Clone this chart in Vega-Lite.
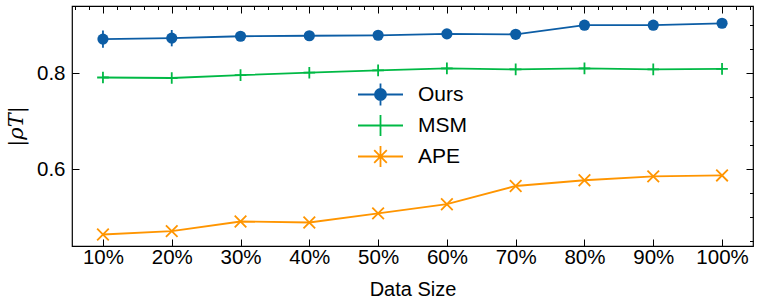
{
  "$schema": "https://vega.github.io/schema/vega-lite/v6.json",
  "width": 681,
  "height": 240,
  "autosize": {"type": "none"},
  "padding": {"left": 72, "top": 6, "right": 8, "bottom": 60},
  "config": {
    "view": {"stroke": "#000", "strokeWidth": 1.2},
    "font": "Liberation Sans",
    "axis": {
      "domain": false,
      "grid": false,
      "labelColor": "#000",
      "tickColor": "#000",
      "tickWidth": 1,
      "labelFont": "Liberation Sans",
      "labelFontSize": 20.5,
      "titleFont": "Liberation Sans",
      "titleFontWeight": "normal",
      "titleColor": "#000"
    }
  },
  "data": {
    "values": [
      {"size": 10, "series": "Ours", "y": 0.871, "lo": 0.853, "hi": 0.889},
      {"size": 20, "series": "Ours", "y": 0.873, "lo": 0.856, "hi": 0.890},
      {"size": 30, "series": "Ours", "y": 0.877, "lo": 0.869, "hi": 0.885},
      {"size": 40, "series": "Ours", "y": 0.878, "lo": 0.871, "hi": 0.885},
      {"size": 50, "series": "Ours", "y": 0.879, "lo": 0.872, "hi": 0.886},
      {"size": 60, "series": "Ours", "y": 0.882, "lo": 0.875, "hi": 0.889},
      {"size": 70, "series": "Ours", "y": 0.881, "lo": 0.874, "hi": 0.888},
      {"size": 80, "series": "Ours", "y": 0.900, "lo": 0.893, "hi": 0.907},
      {"size": 90, "series": "Ours", "y": 0.900, "lo": 0.893, "hi": 0.907},
      {"size": 100, "series": "Ours", "y": 0.904, "lo": 0.897, "hi": 0.911},
      {"size": 10, "series": "MSM", "y": 0.791},
      {"size": 20, "series": "MSM", "y": 0.790},
      {"size": 30, "series": "MSM", "y": 0.796},
      {"size": 40, "series": "MSM", "y": 0.801},
      {"size": 50, "series": "MSM", "y": 0.806},
      {"size": 60, "series": "MSM", "y": 0.810},
      {"size": 70, "series": "MSM", "y": 0.808},
      {"size": 80, "series": "MSM", "y": 0.810},
      {"size": 90, "series": "MSM", "y": 0.808},
      {"size": 100, "series": "MSM", "y": 0.809},
      {"size": 10, "series": "APE", "y": 0.464},
      {"size": 20, "series": "APE", "y": 0.471},
      {"size": 30, "series": "APE", "y": 0.491},
      {"size": 40, "series": "APE", "y": 0.489},
      {"size": 50, "series": "APE", "y": 0.508},
      {"size": 60, "series": "APE", "y": 0.527},
      {"size": 70, "series": "APE", "y": 0.565},
      {"size": 80, "series": "APE", "y": 0.577},
      {"size": 90, "series": "APE", "y": 0.585},
      {"size": 100, "series": "APE", "y": 0.587}
    ]
  },
  "layer": [
    {
      "mark": {"type": "line", "strokeWidth": 1.8},
      "encoding": {
        "x": {
          "field": "size", "type": "quantitative",
          "scale": {"domain": [5.5, 104.5], "nice": false},
          "axis": {
            "values": [10, 20, 30, 40, 50, 60, 70, 80, 90, 100],
            "labelExpr": "datum.value + '%'",
            "tickSize": -7,
            "labelPadding": 8,
            "title": "Data Size",
            "titleFontSize": 20,
            "titlePadding": 12
          }
        },
        "y": {
          "field": "y", "type": "quantitative",
          "scale": {"domain": [0.44, 0.94], "nice": false, "zero": false},
          "axis": {
            "values": [0.6, 0.8],
            "format": ".1f",
            "tickSize": -7,
            "labelPadding": 14,
            "title": "|ρT|",
            "titleFont": "DejaVu Serif",
            "titleFontStyle": "italic",
            "titleFontSize": 21,
            "titlePadding": 10
          }
        },
        "color": {
          "field": "series", "type": "nominal",
          "scale": {"domain": ["Ours", "MSM", "APE"], "range": ["#0C5DA5", "#00B945", "#FF9500"]},
          "legend": {
            "orient": "none",
            "legendX": 292.5,
            "legendY": 72.5,
            "title": null,
            "padding": 0,
            "labelFontSize": 21,
            "labelColor": "#000",
            "labelFont": "Liberation Sans",
            "labelOffset": 21.5,
            "symbolSize": 900,
            "symbolStrokeWidth": 1.8,
            "rowPadding": -1.5,
            "encode": {
              "symbols": {
                "update": {
                  "shape": {"signal": "datum.value === 'Ours' ? 'M-1.5,0H1.5M0,-0.73V0.73M-0.37,0A0.37,0.37 0 1,0 0.37,0A0.37,0.37 0 1,0 -0.37,0Z' : datum.value === 'MSM' ? 'M-1.5,0H1.5M0,-0.7V0.7' : 'M-1.5,0H1.5M0,-0.7V0.7M-0.42,-0.42L0.42,0.42M-0.42,0.42L0.42,-0.42'"},
                  "fill": {"signal": "datum.value === 'Ours' ? '#0C5DA5' : 'transparent'"}
                }
              }
            }
          }
        }
      }
    },
    {
      "transform": [{"filter": "datum.series === 'Ours'"}],
      "mark": {"type": "rule", "color": "#0C5DA5", "strokeWidth": 1.8},
      "encoding": {
        "x": {
          "field": "size", "type": "quantitative",
          "axis": {
            "values": [6, 8, 12, 14, 16, 18, 22, 24, 26, 28, 32, 34, 36, 38, 42, 44, 46, 48, 52, 54, 56, 58, 62, 64, 66, 68, 72, 74, 76, 78, 82, 84, 86, 88, 92, 94, 96, 98, 102, 104],
            "labels": false, "tickSize": -3.5, "title": null
          }
        },
        "y": {
          "field": "lo", "type": "quantitative",
          "axis": {
            "values": [0.45, 0.5, 0.55, 0.65, 0.7, 0.75, 0.85, 0.9],
            "labels": false, "tickSize": -3.5, "title": null
          }
        },
        "y2": {"field": "hi"}
      }
    },
    {
      "transform": [{"filter": "datum.series === 'Ours'"}],
      "mark": {"type": "point", "shape": "circle", "filled": true, "opacity": 1, "color": "#0C5DA5", "size": 125},
      "encoding": {
        "x": {
          "field": "size", "type": "quantitative",
          "axis": {
            "orient": "top",
            "values": [10, 20, 30, 40, 50, 60, 70, 80, 90, 100],
            "labels": false, "tickSize": -7, "title": null
          }
        },
        "y": {
          "field": "y", "type": "quantitative",
          "axis": {
            "orient": "right",
            "values": [0.6, 0.8],
            "labels": false, "tickSize": -7, "title": null
          }
        }
      }
    },
    {
      "transform": [{"filter": "datum.series !== 'Ours'"}],
      "mark": {"type": "point", "filled": false, "opacity": 1, "size": 135, "strokeWidth": 1.8},
      "encoding": {
        "x": {
          "field": "size", "type": "quantitative",
          "axis": {
            "orient": "top",
            "values": [6, 8, 12, 14, 16, 18, 22, 24, 26, 28, 32, 34, 36, 38, 42, 44, 46, 48, 52, 54, 56, 58, 62, 64, 66, 68, 72, 74, 76, 78, 82, 84, 86, 88, 92, 94, 96, 98, 102, 104],
            "labels": false, "tickSize": -3.5, "title": null
          }
        },
        "y": {
          "field": "y", "type": "quantitative",
          "axis": {
            "orient": "right",
            "values": [0.45, 0.5, 0.55, 0.65, 0.7, 0.75, 0.85, 0.9],
            "labels": false, "tickSize": -3.5, "title": null
          }
        },
        "stroke": {
          "field": "series", "type": "nominal",
          "scale": {"domain": ["MSM", "APE"], "range": ["#00B945", "#FF9500"]},
          "legend": null
        },
        "shape": {
          "field": "series", "type": "nominal",
          "scale": {"domain": ["MSM", "APE"], "range": ["M-1,0H1M0,-1V1", "M-1,-1L1,1M-1,1L1,-1"]},
          "legend": null
        }
      }
    }
  ],
  "resolve": {"axis": {"x": "independent", "y": "independent"}}
}
